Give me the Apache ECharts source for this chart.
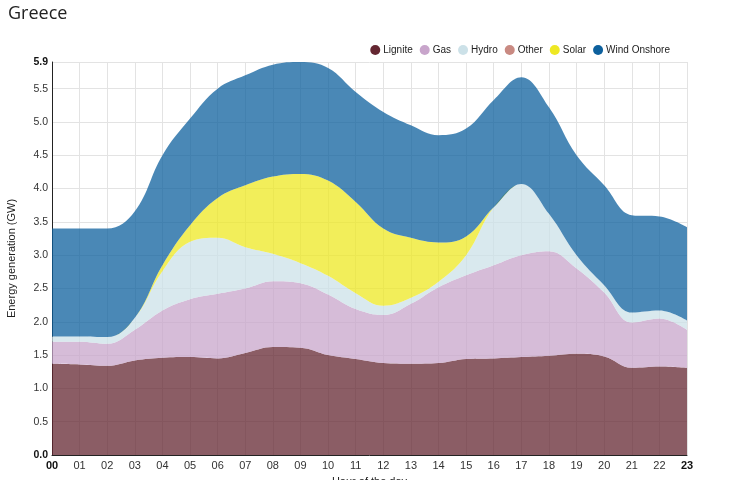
<!DOCTYPE html>
<html><head><meta charset="utf-8">
<script src="https://cdn.jsdelivr.net/npm/echarts@6/dist/echarts.min.js"></script>
<style>html,body{margin:0;padding:0;background:#fff}#c{width:739px;height:480px}</style>
</head><body><div id="c"></div>
<script>
const hours = ['00','01','02','03','04','05','06','07','08','09','10','11','12','13','14','15','16','17','18','19','20','21','22','23'];
const yTicks = ['0.0','0.5','1.0','1.5','2.0','2.5','3.0','3.5','4.0','4.5','5.0','5.5','5.9'];
// values in GW per hour
const lignite = [1.37,1.36,1.34,1.42,1.46,1.47,1.45,1.53,1.62,1.61,1.50,1.44,1.38,1.37,1.38,1.44,1.45,1.47,1.49,1.52,1.48,1.31,1.33,1.31];
const gas     = [0.33,0.34,0.33,0.46,0.71,0.87,0.97,0.97,0.99,0.97,0.91,0.75,0.72,0.90,1.14,1.26,1.40,1.53,1.57,1.28,0.96,0.68,0.72,0.57];
const hydro   = [0.08,0.08,0.10,0.18,0.59,0.86,0.84,0.62,0.41,0.30,0.28,0.24,0.14,0.09,0.08,0.30,0.87,1.07,0.56,0.20,0.11,0.15,0.12,0.14];
const other   = [0,0,0,0,0,0,0,0,0,0,0,0,0,0,0,0,0,0,0,0,0,0,0,0];
const solar   = [0,0,0,0,0.09,0.25,0.60,0.93,1.16,1.34,1.43,1.37,1.16,0.90,0.59,0.28,0,0,0,0,0,0,0,0];
const wind    = [1.62,1.62,1.63,1.60,1.65,1.60,1.64,1.65,1.68,1.68,1.69,1.65,1.75,1.69,1.61,1.62,1.61,1.60,1.60,1.50,1.50,1.46,1.41,1.40];

const names  = ['Lignite','Gas','Hydro','Other','Solar','Wind Onshore'];
const colors = ['#642731','#C8A5CB','#CCE1E8','#C98A82','#EEE823','#0D609D'];
const values = [lignite, gas, hydro, other, solar, wind];

const chart = echarts.init(document.getElementById('c'));
const fontFam = '"Liberation Sans", Arial, sans-serif';
chart.setOption({
  animation: false,
  color: colors,
  title: {text: 'Greece', left: 3, top: 0, textStyle: {fontFamily: '"Open Sans", "Noto Sans", sans-serif', fontSize: 18, fontWeight: 'normal', color: '#222'}},
  legend: {
    data: names, right: 69, top: 45, icon: 'circle', itemWidth: 10, itemHeight: 10, itemGap: 7, padding: 0,
    textStyle: {fontFamily: fontFam, fontSize: 10, color: '#222', padding: [0, 0, 0, -2]}
  },
  grid: {left: 52, right: 52, top: 62, bottom: 25, containLabel: false, outerBoundsMode: 'none'},
  xAxis: {
    type: 'category', data: hours, boundaryGap: false,
    name: 'Hour of the day', nameLocation: 'middle', nameGap: 21,
    nameTextStyle: {fontFamily: fontFam, fontSize: 11, color: '#222'},
    axisLine: {lineStyle: {color: '#222', width: 1}},
    axisTick: {show: false},
    axisLabel: {interval: 0, fontFamily: fontFam, fontSize: 11, color: '#333', margin: 5,
      formatter: function(v, i){ return (i === 0 || i === hours.length-1) ? '{b|'+v+'}' : v; },
      rich: {b: {fontWeight: 'bold', fontFamily: fontFam, fontSize: 11, color: '#111'}}},
    splitLine: {show: true, interval: 0, lineStyle: {color: '#e3e3e3', width: 1}}
  },
  yAxis: {
    type: 'value', min: 0, max: 5.9, interval: 0.5,
    name: 'Energy generation (GW)', nameLocation: 'middle', nameGap: 35, nameRotate: 90,
    nameTextStyle: {fontFamily: fontFam, fontSize: 11, color: '#222'},
    axisLine: {show: true, lineStyle: {color: '#222', width: 1}},
    axisTick: {show: false},
    axisLabel: {fontFamily: fontFam, fontSize: 10.5, color: '#333', margin: 4,
      formatter: function(v){ const s = v.toFixed(1); return (s === yTicks[0] || s === yTicks[yTicks.length-1]) ? '{b|'+s+'}' : s; },
      rich: {b: {fontWeight: 'bold', fontFamily: fontFam, fontSize: 10.5, color: '#111'}}},
    splitLine: {show: true, lineStyle: {color: '#e3e3e3', width: 1}}
  },
  series: names.map((n, i) => ({
    name: n, type: 'line', stack: 'total', data: values[i], smooth: 0.4,
    showSymbol: false, symbol: 'none',
    lineStyle: {width: 0, color: colors[i]},
    itemStyle: {color: colors[i]},
    areaStyle: {color: colors[i], opacity: 0.75}
  }))
});
</script></body></html>
